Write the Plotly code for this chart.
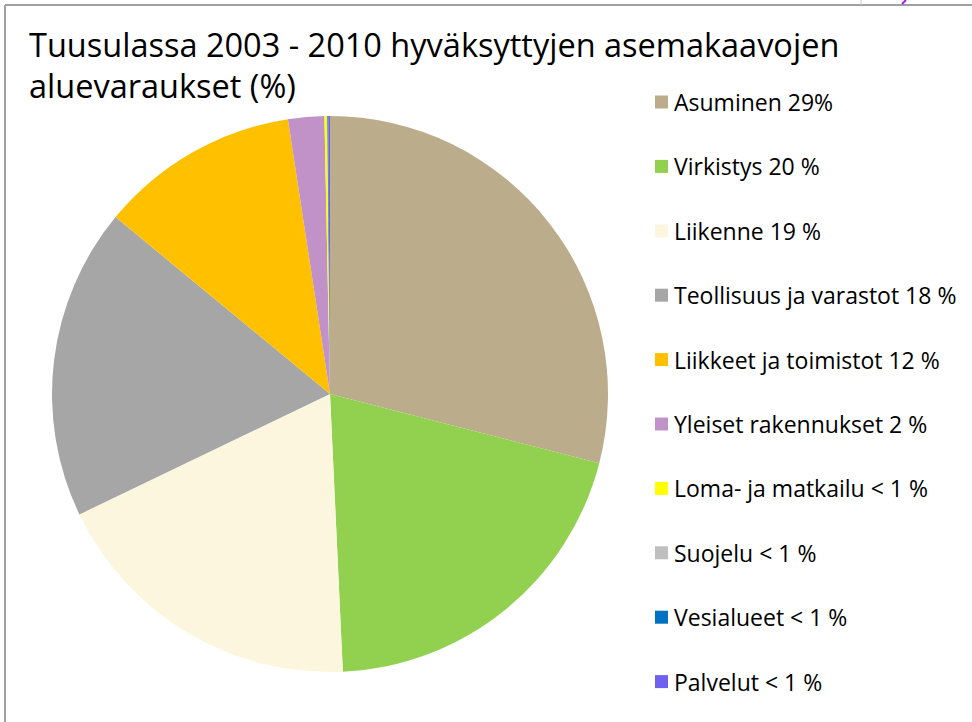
import plotly.graph_objects as go

labels = ["Asuminen 29%", "Virkistys 20 %", "Liikenne 19 %", "Teollisuus ja varastot 18 %",
          "Liikkeet ja toimistot 12 %", "Yleiset rakennukset 2 %", "Loma- ja matkailu < 1 %",
          "Suojelu < 1 %", "Vesialueet < 1 %", "Palvelut < 1 %"]
values = [29.0, 20.25, 18.6, 18.1, 11.6, 2.1, 0.15, 0.02, 0.05, 0.1]
colors = ["#BBAD8B", "#92D050", "#FDF6DF", "#A6A6A6", "#FFC000", "#C092C8",
          "#FFFF00", "#BFBFBF", "#0070C0", "#7060F0"]
title_lines = ["Tuusulassa 2003 - 2010 hyväksyttyjen asemakaavojen", "aluevaraukset (%)"]

W, H = 972, 722
cx, cy, r = 330, 394, 278
FONT = "Open Sans"

fig = go.Figure(go.Pie(
    labels=labels, values=values, sort=False, direction="clockwise", rotation=0,
    marker=dict(colors=colors, line=dict(width=0)),
    textinfo="none", hoverinfo="label", showlegend=False,
    domain=dict(x=[(cx - r) / W, (cx + r) / W], y=[1 - (cy + r) / H, 1 - (cy - r) / H]),
))

shapes = [
    dict(type="line", xref="paper", yref="paper", x0=5 / W, x1=1, y0=1 - 5 / H, y1=1 - 5 / H,
         line=dict(color="#A0A0A0", width=2)),
    dict(type="line", xref="paper", yref="paper", x0=5 / W, x1=5 / W, y0=0, y1=1 - 5 / H,
         line=dict(color="#A0A0A0", width=2)),
    dict(type="line", xref="paper", yref="paper", x0=861 / W, x1=861 / W, y0=1, y1=1 - 5 / H,
         line=dict(color="#C8C8C8", width=1)),
    dict(type="line", xref="paper", yref="paper", x0=902 / W, x1=906 / W, y0=1 - 4 / H, y1=1,
         line=dict(color="#A020F0", width=2)),
]
annotations = []
for i, (line, yc) in enumerate(zip(title_lines, [45, 86])):
    annotations.append(dict(text=line, xref="paper", yref="paper", x=27 / W, y=1 - yc / H,
                            xanchor="left", yanchor="middle", align="left", showarrow=False,
                            font=dict(family=FONT, size=32.5, color="#000000")))

leg_x, leg_y0, leg_dy, sq = 655, 102, 64.4, 13
for i, (lab, col) in enumerate(zip(labels, colors)):
    y = leg_y0 + i * leg_dy
    shapes.append(dict(type="rect", xref="paper", yref="paper",
                       x0=leg_x / W, x1=(leg_x + sq) / W,
                       y0=1 - (y + sq / 2) / H, y1=1 - (y - sq / 2) / H,
                       fillcolor=col, line=dict(width=0)))
    annotations.append(dict(text=lab, xref="paper", yref="paper", x=(leg_x + sq + 4) / W,
                            y=1 - y / H, xanchor="left", yanchor="middle", showarrow=False,
                            font=dict(family=FONT, size=23, color="#000000")))

fig.update_layout(width=W, height=H, margin=dict(l=0, r=0, t=0, b=0),
                  paper_bgcolor="white", plot_bgcolor="white",
                  shapes=shapes, annotations=annotations)
fig.write_html("out.html", config={"displayModeBar": False},
               post_script="document.body.style.margin='0';")
